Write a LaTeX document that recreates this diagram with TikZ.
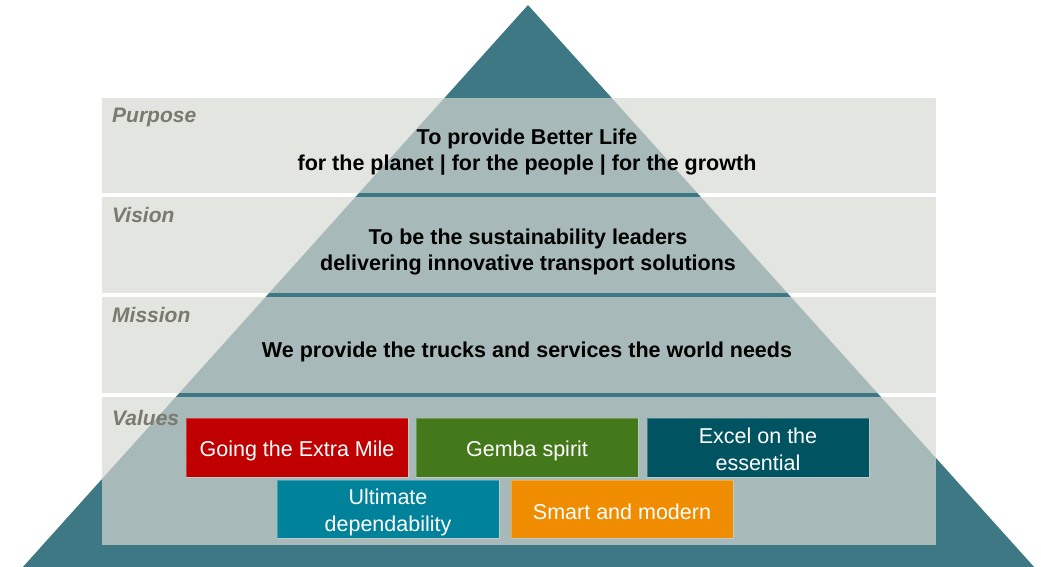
\documentclass[tikz,border=0pt]{standalone}
\usepackage{fontspec}
\setmainfont{Liberation Sans}
\definecolor{pyr}{RGB}{62,120,132}
\definecolor{bandc}{RGB}{215,217,210}
\definecolor{lab}{RGB}{122,122,110}
\definecolor{vred}{RGB}{192,0,0}
\definecolor{vgreen}{RGB}{67,121,26}
\definecolor{vdark}{RGB}{0,84,97}
\definecolor{vteal}{RGB}{0,130,154}
\definecolor{vorange}{RGB}{240,140,0}
\tikzset{
  band/.style={fill=bandc, fill opacity=0.69, draw=none, inner sep=0pt, minimum width=834pt},
  lbl/.style={anchor=base west, text=lab, inner sep=0pt, font=\bfseries\itshape\fontsize{21}{25}\selectfont},
  stmt/.style={align=center, inner sep=0pt, font=\bfseries\fontsize{21.5}{25.5}\selectfont},
  valbox/.style={minimum width=222pt, minimum height=59pt, inner sep=0pt, text=white, align=center,
    draw=white, draw opacity=0.25, line width=0.8pt, font=\fontsize{21.5}{27}\selectfont},
  valtext/.style={text=white, align=center, inner sep=0pt, font=\fontsize{21.5}{27}\selectfont},
}
\begin{document}
\begin{tikzpicture}[x=1pt,y=-1pt]
\useasboundingbox (0,0) rectangle (1041,567);
% pyramid
\coordinate (apex) at (528,5);
\coordinate (bl) at (22,568);
\coordinate (br) at (1035,568);
\fill[pyr] (apex) -- (bl) -- (br) -- cycle;
% bands
\node[band, minimum height=95pt] (purposeband) at (519,145.5) {};
\node[band, minimum height=96pt] (visionband) at (519,245) {};
\node[band, minimum height=96pt] (missionband) at (519,345) {};
\node[band, minimum height=148pt] (valuesband) at (519,471) {};
% labels
\node[lbl] (lpurpose) at (112,122.5) {Purpose};
\node[lbl] (lvision) at (112,222) {Vision};
\node[lbl] (lmission) at (112,322.5) {Mission};
\node[lbl] (lvalues) at (112,425) {Values};
% statements
\node[stmt] (tpurpose) at (527,152) {To provide Better Life\\for the planet | for the people | for the growth};
\node[stmt] (tvision) at (528,252) {To be the sustainability leaders\\delivering innovative transport solutions};
\node[stmt] (tmission) at (527,352) {We provide the trucks and services the world needs};
% values
\node[valbox, fill=vred] (v1) at (297,447.5) {};
\node[valbox, fill=vgreen] (v2) at (527,447.5) {};
\node[valbox, fill=vdark] (v3) at (758,447.5) {};
\node[valbox, fill=vteal, minimum height=58pt] (v4) at (388,509) {};
\node[valbox, fill=vorange, minimum height=58pt] (v5) at (622,509) {};
\node[valtext] (t1) at ([yshift=-3pt]v1.center) {Going the Extra Mile};
\node[valtext] (t2) at ([yshift=-3pt]v2.center) {Gemba spirit};
\node[valtext] (t3) at ([yshift=-1.5pt]v3.center) {Excel on the\\essential};
\node[valtext] (t4) at ([yshift=-3.5pt]v4.center) {Ultimate\\dependability};
\node[valtext] (t5) at ([yshift=-3pt]v5.center) {Smart and modern};
\end{tikzpicture}
\end{document}
